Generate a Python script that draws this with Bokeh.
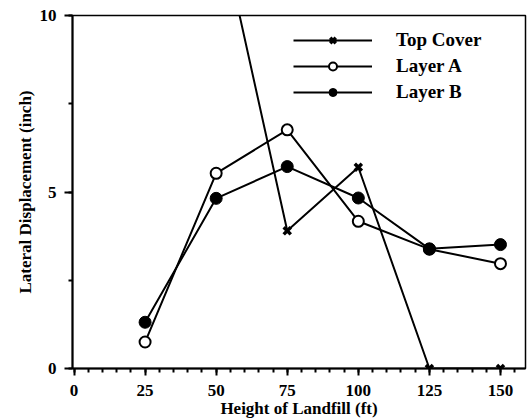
from bokeh.plotting import figure
from bokeh.models import Range1d, SingleIntervalTicker, Legend, LegendItem
from bokeh.embed import file_html
from bokeh.resources import INLINE

# Data
heights_top = [50, 75, 100, 125, 150]
top_cover = [13.0, 3.9, 5.7, 0.0, 0.0]

heights = [25, 50, 75, 100, 125, 150]
layer_a = [0.75, 5.53, 6.76, 4.17, 3.38, 2.97]
layer_b = [1.31, 4.82, 5.72, 4.83, 3.39, 3.51]

x_label = "Height of Landfill (ft)"
y_label = "Lateral Displacement (inch)"
series_names = ["Top Cover", "Layer A", "Layer B"]

FONT = "Liberation Serif"

p = figure(width=527, height=420, output_backend="svg", toolbar_location=None,
           x_range=Range1d(-0.53, 158.8), y_range=Range1d(0, 10),
           min_border_left=72, min_border_right=2, min_border_top=15, min_border_bottom=52)

p.background_fill_color = "white"
p.border_fill_color = "white"
p.outline_line_color = "black"
p.outline_line_width = 1.5
p.grid.visible = False

# axes
p.xaxis.ticker = SingleIntervalTicker(interval=25, num_minor_ticks=5)
p.yaxis.ticker = SingleIntervalTicker(interval=5, num_minor_ticks=2)
for ax in (p.xaxis[0], p.yaxis[0]):
    ax.axis_line_width = 2
    ax.axis_line_color = "black"
    ax.major_tick_line_width = 2
    ax.major_tick_line_color = "black"
    ax.minor_tick_line_width = 2
    ax.minor_tick_line_color = "black"
    ax.major_tick_in = 0
    ax.minor_tick_in = 0
    ax.minor_tick_out = 4
    ax.major_label_text_font = FONT
    ax.major_label_text_font_style = "bold"
    ax.major_label_text_font_size = "17px"
    ax.major_label_text_color = "black"
    ax.axis_label_text_font = FONT
    ax.axis_label_text_font_style = "bold"
    ax.axis_label_text_font_size = "17px"
    ax.axis_label_text_color = "black"

p.xaxis.major_tick_out = 7
p.xaxis.major_label_standoff = 9
p.xaxis.axis_label = x_label
p.xaxis.axis_label_standoff = 0

p.yaxis.major_tick_out = 8
p.yaxis.major_label_standoff = 8
p.yaxis.axis_label = y_label
p.yaxis.axis_label_standoff = 2

# series
r_top_l = p.line(heights_top, top_cover, line_color="black", line_width=2)
r_top_m = p.scatter(heights_top, top_cover, marker="x", size=10, line_color="black", line_width=3.5)

r_a_l = p.line(heights, layer_a, line_color="black", line_width=2)
r_a_m = p.scatter(heights, layer_a, marker="circle", size=11, fill_color="white",
                  line_color="black", line_width=2)

r_b_l = p.line(heights, layer_b, line_color="black", line_width=2)
r_b_m = p.scatter(heights, layer_b, marker="circle", size=12, fill_color="black",
                  line_color="black", line_width=1)

legend = Legend(items=[
    LegendItem(label=series_names[0], renderers=[r_top_l, r_top_m]),
    LegendItem(label=series_names[1], renderers=[r_a_l, r_a_m]),
    LegendItem(label=series_names[2], renderers=[r_b_l, r_b_m]),
], location=(221, 265))
legend.glyph_width = 79
legend.glyph_height = 20
legend.label_height = 20
legend.spacing = 4
legend.padding = 0
legend.margin = 0
legend.label_standoff = 24
legend.border_line_color = None
legend.background_fill_alpha = 0
legend.label_text_font = FONT
legend.label_text_font_style = "bold"
legend.label_text_font_size = "19px"
legend.label_text_color = "black"
p.add_layout(legend, "center")

open("out.html", "w").write(file_html(p, INLINE))
